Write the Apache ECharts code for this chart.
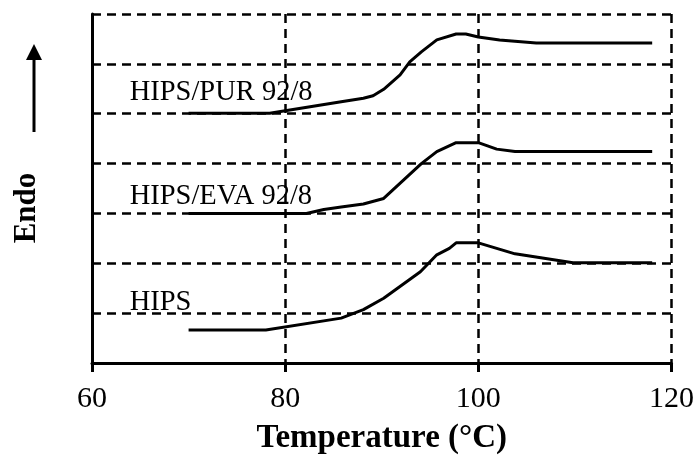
<!DOCTYPE html>
<html>
<head>
<meta charset="utf-8">
<script src="https://cdn.jsdelivr.net/npm/echarts@6/dist/echarts.min.js"></script>
<style>
html,body{margin:0;padding:0;background:#fff;}
#c{width:697px;height:466px;}
</style>
</head>
<body>
<div id="c"></div>
<script>
// x tick values
var xTicks = [60, 80, 100, 120];
// HIPS
var hipsT = [70, 78, 85.8, 88.1, 90.2, 94.0, 95.7, 97.0, 97.7, 100, 103.8, 109.8, 118];
var hipsV = [0.66, 0.66, 0.9, 1.07, 1.30, 1.83, 2.17, 2.30, 2.41, 2.41, 2.19, 2.01, 2.01];
// HIPS/EVA 92/8
var evaT = [70, 82.2, 84, 85.8, 88.1, 90.2, 94.1, 95.7, 97.7, 100, 101.9, 103.8, 118];
var evaV = [3.0, 3.0, 3.08, 3.13, 3.19, 3.30, 4.0, 4.24, 4.42, 4.42, 4.29, 4.24, 4.24];
// HIPS/PUR 92/8
var purT = [70, 78.4, 85.8, 88.1, 89.1, 90.2, 91.9, 92.9, 94.1, 95.7, 97.7, 98.7, 100, 102.2, 106, 118];
var purV = [5.01, 5.01, 5.24, 5.31, 5.36, 5.49, 5.78, 6.04, 6.24, 6.48, 6.60, 6.60, 6.54, 6.48, 6.42, 6.42];
// curve labels
var labelNames = ['HIPS/PUR 92/8', 'HIPS/EVA 92/8', 'HIPS'];
var labelX = [63.9, 63.9, 63.9];
var labelY = [5.42, 3.33, 1.22];

function pairs(t, v) { return t.map(function (x, i) { return [x, v[i]]; }); }

var chart = echarts.init(document.getElementById('c'), null, {renderer: 'canvas'});
var serif = 'Liberation Serif';
var dash = {color: '#000', width: 2.5, type: [9, 6]};

function lineSeries(name, t, v) {
  return {
    name: name, type: 'line', data: pairs(t, v), symbol: 'none', smooth: false,
    lineStyle: {color: '#000', width: 3}, animation: false, z: 5
  };
}

chart.setOption({
  backgroundColor: '#fff',
  animation: false,
  grid: {left: 92, right: 25, top: 14, bottom: 103, containLabel: false},
  xAxis: {
    type: 'value', min: xTicks[0], max: xTicks[xTicks.length - 1], interval: 20,
    axisLine: {show: true, lineStyle: {color: '#000', width: 3}},
    axisTick: {show: true, length: 9, inside: false, lineStyle: {color: '#000', width: 3}},
    axisLabel: {color: '#000', fontFamily: serif, fontSize: 30, margin: 21},
    splitLine: {show: true, lineStyle: dash},
    name: 'Temperature (°C)', nameLocation: 'middle', nameGap: 59,
    nameTextStyle: {color: '#000', fontFamily: serif, fontSize: 33, fontWeight: 'bold'}
  },
  yAxis: {
    type: 'value', min: 0, max: 7, interval: 1,
    axisLine: {show: true, lineStyle: {color: '#000', width: 3}},
    axisTick: {show: false},
    axisLabel: {show: false},
    splitLine: {show: true, lineStyle: dash}
  },
  series: [
    lineSeries('HIPS', hipsT, hipsV),
    lineSeries('HIPS/EVA 92/8', evaT, evaV),
    lineSeries('HIPS/PUR 92/8', purT, purV)
  ]
});

var g = [];
for (var i = 0; i < labelNames.length; i++) {
  var p = chart.convertToPixel({gridIndex: 0}, [labelX[i], labelY[i]]);
  g.push({
    type: 'text', x: p[0], y: p[1], z: 10,
    style: {text: labelNames[i], fill: '#000', font: '28.5px "Liberation Serif"', textAlign: 'left', textVerticalAlign: 'middle'}
  });
}
g.push({
  type: 'text', x: 27, y: 208, rotation: Math.PI / 2, z: 10,
  style: {text: 'Endo', fill: '#000', font: 'bold 31px "Liberation Serif"', textAlign: 'center', textVerticalAlign: 'middle'}
});
g.push({type: 'line', shape: {x1: 34, y1: 132, x2: 34, y2: 56}, style: {stroke: '#000', lineWidth: 3}, z: 10});
g.push({type: 'polygon', shape: {points: [[34, 44], [26, 60], [42, 60]]}, style: {fill: '#000'}, z: 10});
chart.setOption({graphic: g});
</script>
</body>
</html>
